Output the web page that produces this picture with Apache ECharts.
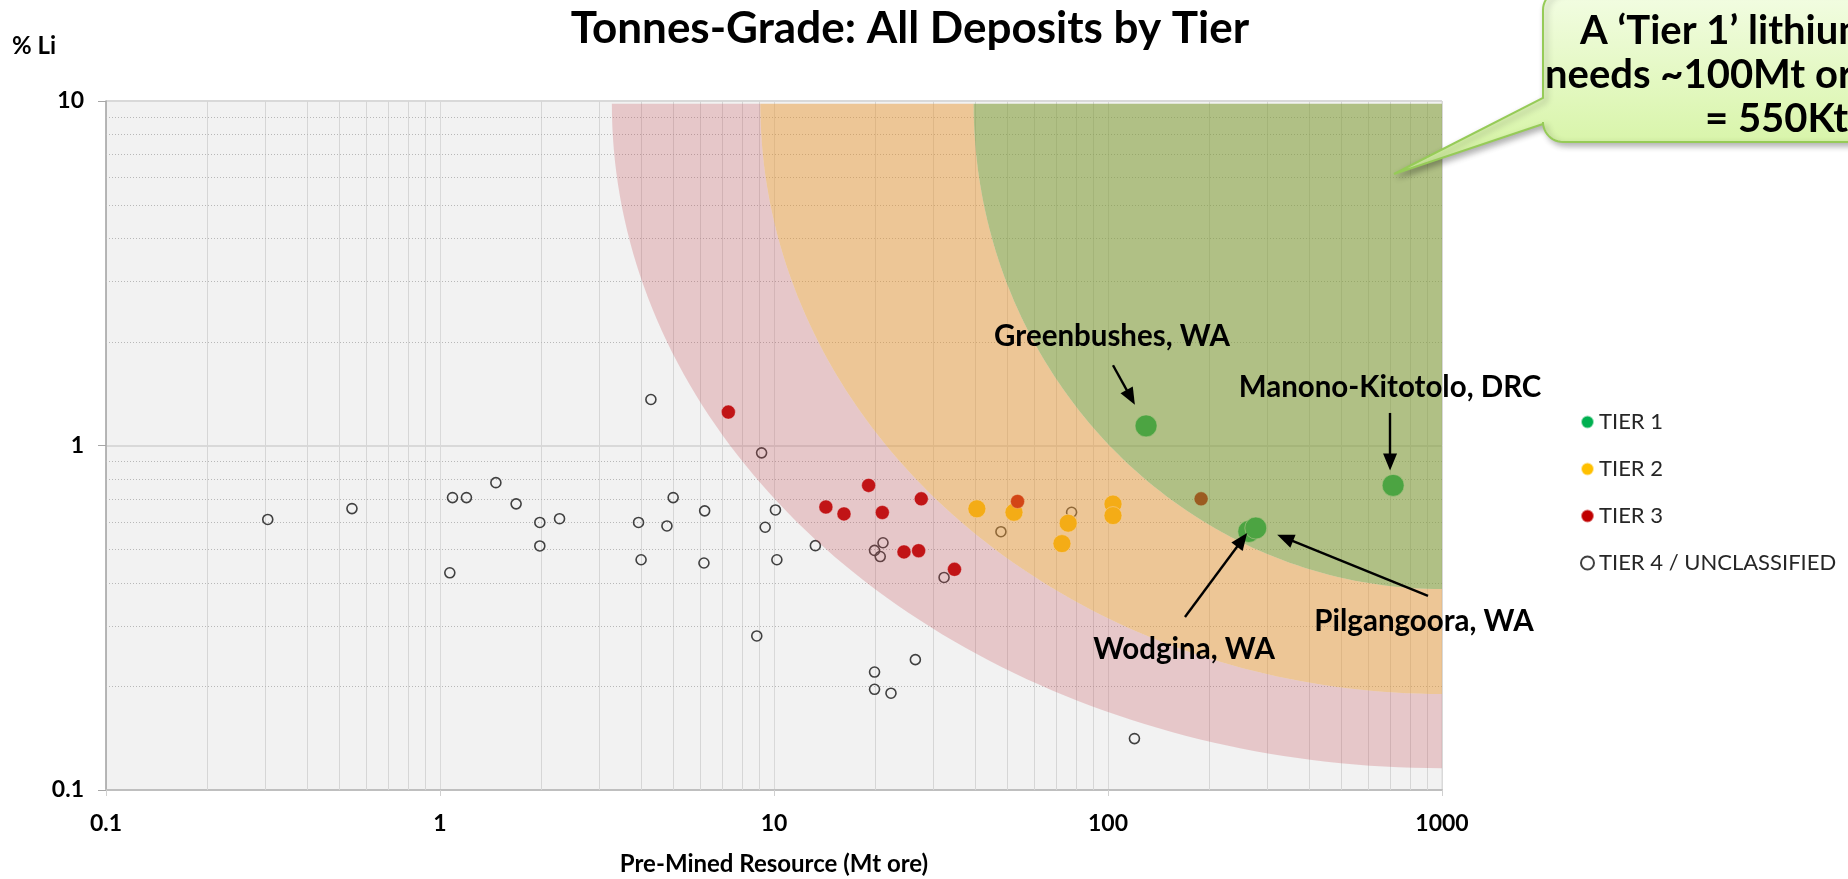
<!DOCTYPE html>
<html>
<head>
<meta charset="utf-8">
<title>Tonnes-Grade: All Deposits by Tier</title>
<script src="https://cdn.jsdelivr.net/npm/echarts@6.0.0/dist/echarts.min.js"></script>
<style>
  html, body { margin: 0; padding: 0; background: #fff; }
  #chart { width: 1848px; height: 879px; }
</style>
</head>
<body>
<div id="chart"></div>
<script>
// deposits as [pre-mined resource (Mt ore), grade (% Li)]
const tierNames = ['TIER 1', 'TIER 2', 'TIER 3', 'TIER 4 / UNCLASSIFIED'];
const tier1 = [[130, 1.14], [714, 0.766], [264, 0.563], [277, 0.576]];
const tier2 = [[40.5, 0.655], [52.3, 0.64], [76, 0.595], [72.8, 0.519], [103.5, 0.676], [103.5, 0.626]];
const tier3 = [[7.3, 1.25], [19.2, 0.766], [14.3, 0.663], [16.2, 0.633], [21.1, 0.639], [27.6, 0.70],
  [24.5, 0.491], [27.1, 0.495], [34.7, 0.437], [53.6, 0.688], [190, 0.70]];
const tier4 = [[0.305, 0.61], [0.545, 0.656], [1.09, 0.706], [1.2, 0.706], [1.47, 0.78], [1.69, 0.677],
  [1.99, 0.598], [1.99, 0.511], [2.28, 0.613], [1.07, 0.427], [4.28, 1.36], [3.93, 0.598], [4.0, 0.466],
  [4.78, 0.584], [4.99, 0.706], [6.2, 0.646], [6.17, 0.456], [8.88, 0.28], [9.18, 0.952], [10.1, 0.65],
  [9.41, 0.579], [10.2, 0.466], [13.3, 0.512], [21.2, 0.522], [20.0, 0.496], [20.8, 0.476], [32.3, 0.414],
  [26.5, 0.239], [20.0, 0.22], [20.0, 0.196], [22.4, 0.191], [47.8, 0.562], [77.8, 0.64], [120, 0.141]];

// tier zones: arcs around the top-right corner
const zoneCorner = [1000, 9.82];
const zoneTopStartX = [3.27, 9.1, 39.6];      // where each arc leaves the top edge
const zoneRightEndY = [0.1157, 0.19, 0.383];  // where each arc meets the right edge
const zoneColors = ['rgba(196,77,85,0.26)', 'rgba(231,149,47,0.47)', 'rgba(130,156,56,0.59)'];

// named deposits: label, arrow tail, arrow head
const namedDeposits = ['Greenbushes, WA', 'Manono-Kitotolo, DRC', 'Pilgangoora, WA', 'Wodgina, WA'];
const arrowFrom = [[103.5, 1.71], [699, 1.243], [908, 0.366], [170, 0.318]];
const arrowTo = [[117, 1.38], [699, 0.896], [339, 0.539], [252, 0.532]];
const labelPos = [[1112, 336], [1390, 387], [1424, 621], [1184, 649]];

const calloutLines = ['A \u2018Tier 1\u2019 lithium', 'needs ~100Mt ore', '= 550Kt'];

const xDecades = [0.1, 1, 10, 100];
const yDecades = [0.1, 1];
const minorSteps = [2, 3, 4, 5, 6, 7, 8, 9];
const xMinor = [];
xDecades.forEach(d => minorSteps.forEach(m => xMinor.push(+(d * m).toPrecision(3))));
const yMinor = [];
yDecades.forEach(d => minorSteps.forEach(m => yMinor.push(+(d * m).toPrecision(3))));

const FONT = 'Lato';
const chart = echarts.init(document.getElementById('chart'));

function arcPoints(api, i, reverse) {
  const c = api.coord(zoneCorner);
  const left = api.coord([zoneTopStartX[i], zoneCorner[1]]);
  const bottom = api.coord([zoneCorner[0], zoneRightEndY[i]]);
  const rx = c[0] - left[0], ry = bottom[1] - c[1];
  const pts = [];
  for (let k = 0; k <= 90; k++) {
    const t = (k / 90) * Math.PI / 2;
    pts.push([c[0] - rx * Math.cos(t), c[1] + ry * Math.sin(t)]);
  }
  return reverse ? pts.reverse() : pts;
}

// speech bubble with a pointer going down-left into the chart
function calloutPoints() {
  const x0 = 1543, y0 = -10, x1 = 1900, y1 = 142, r = 20;
  const pts = [[x0 + r, y0], [x1, y0], [x1, y1], [x0 + r, y1]];
  for (let k = 1; k <= 12; k++) {
    const a = Math.PI / 2 + (k / 12) * Math.PI / 2;
    pts.push([x0 + r + r * Math.cos(a), y1 - r + r * Math.sin(a)]);
  }
  pts.push([x0, 124], [1394, 174], [x0, 98]);
  for (let k = 0; k <= 12; k++) {
    const a = Math.PI + (k / 12) * Math.PI / 2;
    pts.push([x0 + r + r * Math.cos(a), y0 + r + r * Math.sin(a)]);
  }
  return pts;
}

const option = {
  backgroundColor: '#ffffff',
  animation: false,
  title: {
    text: 'Tonnes-Grade: All Deposits by Tier',
    left: 905,
    textAlign: 'center',
    top: 2,
    textStyle: { fontFamily: FONT, fontWeight: 'bold', fontSize: 44, color: '#000' }
  },
  legend: {
    orient: 'vertical',
    left: 1580,
    top: 410,
    padding: 0,
    itemWidth: 13,
    itemHeight: 13,
    itemGap: 23,
    data: tierNames,
    textStyle: { fontFamily: FONT, fontSize: 22, color: '#262626', lineHeight: 24 }
  },
  grid: {
    left: 106, right: 406, top: 101, bottom: 89,
    show: true, backgroundColor: '#f2f2f2', borderColor: '#d9d9d9', borderWidth: 1
  },
  xAxis: {
    type: 'log', logBase: 10, min: 0.1, max: 1000,
    axisLine: { show: true, lineStyle: { color: '#bfbfbf', width: 2 } },
    axisTick: { show: true, length: 6, lineStyle: { color: '#d0d0d0' } },
    axisLabel: {
      margin: 22, fontFamily: FONT, fontWeight: 'bold', fontSize: 23, color: '#000',
      formatter: v => String(+(+v).toPrecision(3))
    },
    splitLine: { show: true, lineStyle: { color: '#d9d9d9', width: 1 } }
  },
  yAxis: {
    type: 'log', logBase: 10, min: 0.1, max: 10,
    axisLine: { show: true, lineStyle: { color: '#a6a6a6', width: 1.5 } },
    axisTick: { show: true, length: 8, lineStyle: { color: '#a6a6a6' } },
    axisLabel: {
      margin: 22, fontFamily: FONT, fontWeight: 'bold', fontSize: 23, color: '#000',
      formatter: v => String(+(+v).toPrecision(3))
    },
    splitLine: { show: true, lineStyle: { color: '#d9d9d9', width: 2 } }
  },
  series: [
    {
      name: 'xMinorGrid', type: 'custom', silent: true, z: 1,
      data: xMinor.map(v => [v, 1]),
      renderItem: (params, api) => {
        const a = api.coord([api.value(0), 0.1]);
        const b = api.coord([api.value(0), 10]);
        const x = Math.round(a[0]) + 0.5;
        return { type: 'line', shape: { x1: x, y1: a[1], x2: x, y2: b[1] },
          style: { stroke: '#d6d6d6', lineWidth: 1 } };
      }
    },
    {
      name: 'yMinorGrid', type: 'custom', silent: true, z: 1,
      data: yMinor.map(v => [1, v]),
      renderItem: (params, api) => {
        const a = api.coord([0.1, api.value(1)]);
        const b = api.coord([1000, api.value(1)]);
        const y = Math.round(a[1]) + 0.5;
        return { type: 'line', shape: { x1: a[0], y1: y, x2: b[0], y2: y },
          style: { stroke: '#b8b8b8', lineWidth: 1, lineDash: [1, 2] } };
      }
    },
    {
      name: tierNames[3], type: 'scatter', z: 3, data: tier4, symbolSize: 10,
      itemStyle: { color: 'rgba(255,255,255,0)', borderColor: '#404040', borderWidth: 1.6, opacity: 1 }
    },
    {
      name: tierNames[1], type: 'scatter', z: 4, data: tier2, symbolSize: 18,
      itemStyle: { color: '#ffc000', borderColor: 'rgba(255,255,255,0.6)', borderWidth: 1, opacity: 1 }
    },
    {
      name: tierNames[2], type: 'scatter', z: 5, data: tier3, symbolSize: 14,
      itemStyle: { color: '#c00000', borderColor: 'rgba(255,255,255,0.5)', borderWidth: 0.8, opacity: 1 }
    },
    {
      name: tierNames[0], type: 'scatter', z: 6, data: tier1, symbolSize: 22,
      itemStyle: { color: '#00b050', borderColor: 'rgba(255,255,255,0.6)', borderWidth: 1, opacity: 1 }
    },
    {
      name: 'zones', type: 'custom', silent: true, z: 8,
      data: zoneTopStartX.map((x, i) => [x, zoneRightEndY[i]]),
      renderItem: (params, api) => {
        const i = params.dataIndex;
        const outer = arcPoints(api, i, false);
        const inner = i + 1 < zoneTopStartX.length ? arcPoints(api, i + 1, true) : [api.coord(zoneCorner)];
        return { type: 'polygon', shape: { points: outer.concat(inner) },
          style: { fill: zoneColors[i] } };
      }
    },
    {
      name: 'arrows', type: 'scatter', z: 20, data: [], silent: true,
      markLine: {
        silent: true,
        z: 20,
        symbol: ['none', 'triangle'],
        symbolSize: [14, 17],
        label: { show: false },
        lineStyle: { color: '#000', width: 2.4, type: 'solid', opacity: 1 },
        data: arrowFrom.map((p, i) => [{ coord: p }, { coord: arrowTo[i] }])
      }
    }
  ],
  graphic: [
    {
      type: 'text', z: 100, left: 12, top: 34,
      style: { text: '% Li', fontFamily: FONT, fontWeight: 'bold', fontSize: 24, fill: '#000' }
    },
    {
      type: 'text', z: 100, x: 774, y: 864,
      style: { text: 'Pre-Mined Resource (Mt ore)', fontFamily: FONT, fontWeight: 'bold', fontSize: 24,
        fill: '#000', align: 'center', verticalAlign: 'middle' }
    },
    ...namedDeposits.map((t, i) => ({
      type: 'text', z: 100, x: labelPos[i][0], y: labelPos[i][1],
      style: { text: t, fontFamily: FONT, fontWeight: 'bold', fontSize: 29.5, fill: '#000',
        align: 'center', verticalAlign: 'middle' }
    })),
    {
      type: 'polygon', z: 100,
      shape: { points: calloutPoints() },
      style: {
        fill: { type: 'linear', x: 0, y: 0, x2: 0, y2: 1,
          colorStops: [{ offset: 0, color: '#f3fde4' }, { offset: 1, color: '#d3f39e' }] },
        stroke: '#96cb58', lineWidth: 2,
        shadowBlur: 6, shadowColor: 'rgba(0,0,0,0.3)', shadowOffsetX: 3, shadowOffsetY: 3
      }
    },
    ...calloutLines.map((t, i) => ({
      type: 'text', z: 101, x: [1580, 1545, 1705][i], y: [31, 75, 119][i],
      style: { text: t, fontFamily: FONT, fontWeight: 'bold', fontSize: 40,
        fill: '#000', verticalAlign: 'middle' }
    }))
  ]
};

chart.setOption(option);
</script>
</body>
</html>
